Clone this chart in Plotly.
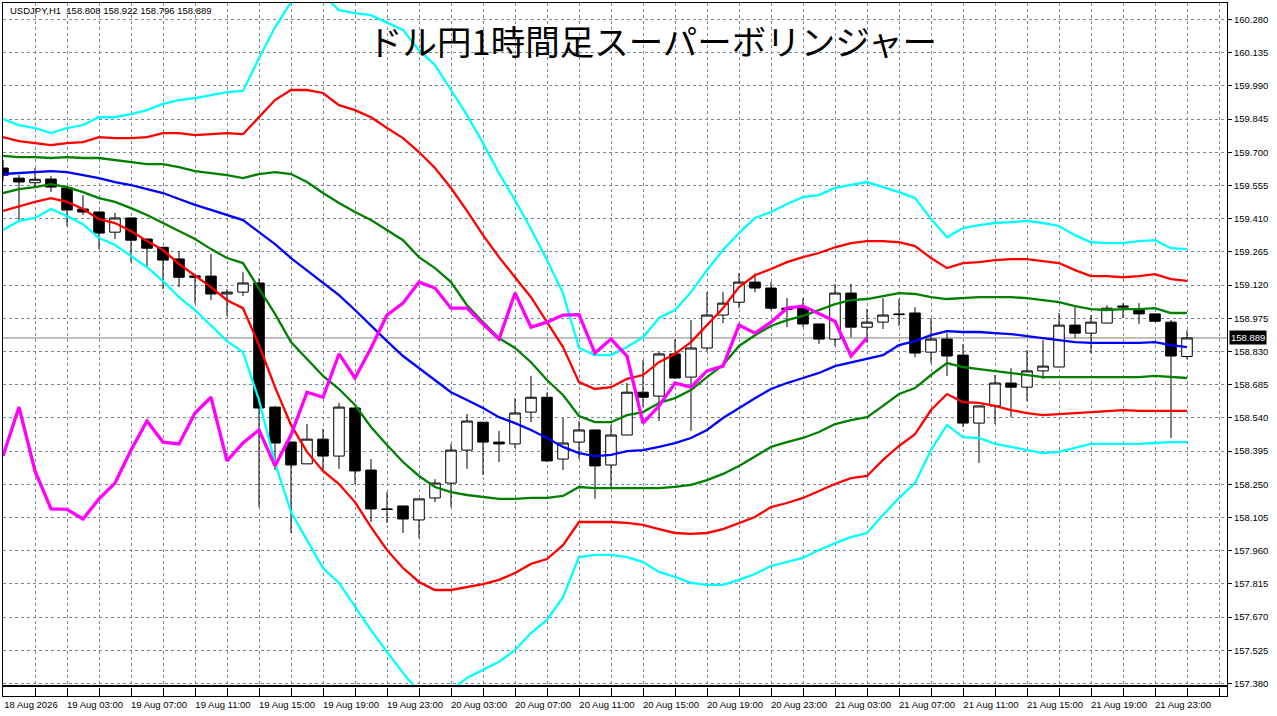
import pandas as pd
import plotly.graph_objects as go


####################################################
# DATA
####################################################

times = pd.date_range("2026-08-18 23:00", periods=75, freq="h")

opens = [159.631, 159.587, 159.567, 159.583, 159.544, 159.452, 159.439, 159.351, 159.413, 159.321,
         159.285, 159.234, 159.160, 159.159, 159.081, 159.089, 159.129, 158.587, 158.434, 158.339,
         158.447, 158.373, 158.583, 158.312, 158.142, 158.155, 158.094, 158.190, 158.255, 158.399,
         158.521, 158.434, 158.426, 158.565, 158.630, 158.360, 158.434, 158.487, 158.334, 158.465,
         158.652, 158.635, 158.819, 158.718, 158.845, 158.989, 159.045, 159.133, 159.107, 159.013,
         159.019, 158.950, 158.884, 159.085, 158.936, 158.958, 158.994, 158.998, 158.827, 158.884,
         158.814, 158.517, 158.592, 158.692, 158.674, 158.745, 158.762, 158.945, 158.910, 158.954,
         159.023, 159.011, 158.994, 158.958, 158.808]

highs = [159.666, 159.600, 159.631, 159.596, 159.553, 159.513, 159.444, 159.435, 159.415, 159.322,
         159.286, 159.269, 159.163, 159.256, 159.103, 159.176, 159.150, 158.592, 158.435, 158.513,
         158.491, 158.605, 158.584, 158.360, 158.216, 158.156, 158.186, 158.272, 158.426, 158.557,
         158.522, 158.483, 158.626, 158.723, 158.652, 158.539, 158.526, 158.488, 158.508, 158.692,
         158.792, 158.827, 158.884, 158.967, 159.089, 159.089, 159.172, 159.172, 159.133, 159.063,
         159.063, 158.951, 159.125, 159.125, 159.015, 159.063, 159.059, 159.023, 158.976, 158.910,
         158.863, 158.592, 158.727, 158.757, 158.836, 158.880, 158.998, 159.023, 158.989, 159.032,
         159.041, 159.041, 158.995, 158.967, 158.922]

lows = [159.575, 159.404, 159.548, 159.526, 159.378, 159.426, 159.277, 159.321, 159.220, 159.203,
        159.103, 159.111, 159.041, 159.054, 158.985, 159.072, 158.150, 158.312, 158.037, 158.338,
        158.303, 158.317, 158.251, 158.085, 158.081, 158.037, 158.015, 158.172, 158.150, 158.317,
        158.290, 158.347, 158.408, 158.521, 158.347, 158.312, 158.360, 158.186, 158.233, 158.464,
        158.587, 158.526, 158.710, 158.483, 158.832, 158.954, 159.019, 159.089, 159.011, 158.936,
        158.936, 158.863, 158.854, 158.892, 158.867, 158.928, 158.941, 158.805, 158.779, 158.723,
        158.499, 158.343, 158.513, 158.543, 158.614, 158.710, 158.761, 158.888, 158.823, 158.953,
        158.976, 158.950, 158.958, 158.452, 158.796]

closes = [159.600, 159.570, 159.582, 159.548, 159.448, 159.439, 159.347, 159.413, 159.316, 159.281,
          159.229, 159.154, 159.154, 159.081, 159.089, 159.129, 158.583, 158.430, 158.334, 158.447,
          158.373, 158.587, 158.308, 158.142, 158.140, 158.098, 158.186, 158.255, 158.399, 158.526,
          158.434, 158.426, 158.561, 158.630, 158.352, 158.430, 158.487, 158.330, 158.465, 158.652,
          158.630, 158.819, 158.714, 158.845, 158.989, 159.041, 159.133, 159.107, 159.019, 159.019,
          158.950, 158.884, 159.085, 158.936, 158.958, 158.989, 158.991, 158.823, 158.884, 158.810,
          158.517, 158.592, 158.692, 158.674, 158.745, 158.766, 158.945, 158.910, 158.958, 159.019,
          159.028, 158.994, 158.962, 158.810, 158.889]

# +3σ
upper3 = [159.845, 159.819, 159.806, 159.784, 159.806, 159.819, 159.853, 159.853, 159.867, 159.884,
          159.911, 159.928, 159.937, 159.950, 159.963, 159.968, 160.111, 160.246, 160.356, 160.387,
          160.387, 160.321, 160.308, 160.299, 160.268, 160.234, 160.146, 160.081, 159.972, 159.862,
          159.740, 159.609, 159.491, 159.365, 159.229, 159.085, 158.845, 158.814, 158.814, 158.849,
          158.892, 158.976, 159.011, 159.089, 159.185, 159.273, 159.347, 159.413, 159.439, 159.474,
          159.504, 159.513, 159.544, 159.557, 159.570, 159.548, 159.526, 159.500, 159.409, 159.329,
          159.369, 159.382, 159.391, 159.395, 159.400, 159.391, 159.378, 159.338, 159.307, 159.303,
          159.303, 159.312, 159.316, 159.281, 159.277]

# +2σ
upper2 = [159.766, 159.749, 159.740, 159.731, 159.740, 159.744, 159.766, 159.762, 159.762, 159.766,
          159.784, 159.784, 159.775, 159.779, 159.784, 159.779, 159.853, 159.928, 159.972, 159.972,
          159.959, 159.906, 159.884, 159.853, 159.806, 159.762, 159.701, 159.631, 159.544, 159.444,
          159.338, 159.242, 159.154, 159.067, 158.958, 158.849, 158.696, 158.666, 158.674, 158.710,
          158.727, 158.783, 158.819, 158.871, 158.945, 159.019, 159.111, 159.163, 159.190, 159.220,
          159.242, 159.260, 159.285, 159.303, 159.312, 159.312, 159.307, 159.290, 159.238, 159.194,
          159.216, 159.220, 159.229, 159.233, 159.233, 159.225, 159.216, 159.185, 159.159, 159.159,
          159.154, 159.159, 159.168, 159.146, 159.138]

# +1σ
upper1 = [159.684, 159.679, 159.679, 159.675, 159.679, 159.675, 159.675, 159.666, 159.657, 159.648,
          159.648, 159.635, 159.618, 159.609, 159.600, 159.587, 159.605, 159.613, 159.605, 159.570,
          159.522, 159.478, 159.439, 159.404, 159.360, 159.316, 159.242, 159.194, 159.133, 159.032,
          158.958, 158.888, 158.845, 158.783, 158.705, 158.640, 158.548, 158.521, 158.521, 158.552,
          158.565, 158.605, 158.626, 158.661, 158.718, 158.771, 158.854, 158.901, 158.941, 158.967,
          158.985, 159.011, 159.037, 159.054, 159.059, 159.072, 159.085, 159.081, 159.067, 159.059,
          159.063, 159.067, 159.067, 159.067, 159.063, 159.054, 159.045, 159.028, 159.015, 159.011,
          159.015, 159.015, 159.019, 158.998, 158.998]

# ミドルライン
middle = [159.605, 159.609, 159.613, 159.618, 159.613, 159.600, 159.587, 159.570, 159.557, 159.539,
          159.522, 159.496, 159.470, 159.448, 159.426, 159.404, 159.351, 159.299, 159.238, 159.185,
          159.129, 159.076, 159.011, 158.941, 158.875, 158.810, 158.758, 158.705, 158.652, 158.618,
          158.583, 158.543, 158.517, 158.487, 158.452, 158.413, 158.386, 158.373, 158.378, 158.395,
          158.399, 158.413, 158.430, 158.452, 158.487, 158.539, 158.583, 158.626, 158.666, 158.692,
          158.714, 158.736, 158.766, 158.783, 158.797, 158.814, 158.858, 158.875, 158.901, 158.919,
          158.915, 158.915, 158.910, 158.906, 158.897, 158.888, 158.880, 158.871, 158.867, 158.867,
          158.867, 158.867, 158.871, 158.858, 158.849]

# -1σ
lower1 = [159.522, 159.539, 159.548, 159.561, 159.548, 159.526, 159.500, 159.483, 159.456, 159.426,
          159.391, 159.356, 159.321, 159.277, 159.238, 159.216, 159.107, 158.994, 158.871, 158.797,
          158.723, 158.666, 158.596, 158.500, 158.421, 158.347, 158.286, 158.238, 158.216, 158.203,
          158.194, 158.186, 158.186, 158.190, 158.190, 158.199, 158.238, 158.233, 158.233, 158.233,
          158.233, 158.233, 158.238, 158.247, 158.268, 158.295, 158.330, 158.373, 158.413, 158.434,
          158.452, 158.478, 158.513, 158.530, 158.543, 158.592, 158.644, 158.670, 158.727, 158.779,
          158.762, 158.753, 158.745, 158.736, 158.727, 158.718, 158.718, 158.718, 158.718, 158.718,
          158.718, 158.718, 158.723, 158.718, 158.714]

# -2σ
lower2 = [159.444, 159.465, 159.483, 159.500, 159.483, 159.452, 159.408, 159.391, 159.356, 159.312,
          159.273, 159.212, 159.163, 159.111, 159.054, 159.019, 158.858, 158.674, 158.509, 158.391,
          158.308, 158.251, 158.172, 158.063, 157.963, 157.884, 157.823, 157.788, 157.788, 157.801,
          157.814, 157.832, 157.862, 157.902, 157.923, 157.984, 158.085, 158.085, 158.085, 158.081,
          158.072, 158.054, 158.037, 158.033, 158.037, 158.054, 158.081, 158.107, 158.150, 158.168,
          158.190, 158.221, 158.251, 158.277, 158.286, 158.356, 158.417, 158.469, 158.574, 158.644,
          158.609, 158.605, 158.592, 158.574, 158.561, 158.552, 158.557, 158.561, 158.565, 158.570,
          158.574, 158.570, 158.570, 158.570, 158.570]

# -3σ
lower3 = [159.360, 159.400, 159.413, 159.452, 159.421, 159.386, 159.325, 159.295, 159.247, 159.198,
          159.137, 159.067, 159.011, 158.945, 158.875, 158.827, 158.618, 158.343, 158.129, 158.006,
          157.884, 157.819, 157.714, 157.613, 157.517, 157.426, 157.343, 157.321, 157.351, 157.404,
          157.439, 157.474, 157.526, 157.600, 157.657, 157.757, 157.932, 157.941, 157.941, 157.932,
          157.910, 157.867, 157.845, 157.819, 157.810, 157.810, 157.832, 157.858, 157.893, 157.910,
          157.928, 157.963, 157.993, 158.019, 158.037, 158.116, 158.190, 158.255, 158.399, 158.509,
          158.456, 158.452, 158.426, 158.413, 158.399, 158.386, 158.391, 158.408, 158.426, 158.426,
          158.426, 158.426, 158.430, 158.434, 158.434]

# 遅行スパン (終値を20本前にずらす)
lag_shift = 20

price_ticks = ["160.280", "160.135", "159.990", "159.845", "159.700", "159.555", "159.410",
               "159.265", "159.120", "158.975", "158.830", "158.685", "158.540", "158.395",
               "158.250", "158.105", "157.960", "157.815", "157.670", "157.525", "157.380"]

date_labels = ["18 Aug 2026", "19 Aug 03:00", "19 Aug 07:00", "19 Aug 11:00", "19 Aug 15:00",
               "19 Aug 19:00", "19 Aug 23:00", "20 Aug 03:00", "20 Aug 07:00", "20 Aug 11:00",
               "20 Aug 15:00", "20 Aug 19:00", "20 Aug 23:00", "21 Aug 03:00", "21 Aug 07:00",
               "21 Aug 11:00", "21 Aug 15:00", "21 Aug 19:00", "21 Aug 23:00"]

last_price = 158.889


####################################################
# GRÁFICO
####################################################

GRID = "#778899"
FONT = "Liberation Sans"

fig = go.Figure()

fig.add_trace(go.Candlestick(
    x=times,
    open=opens,
    high=highs,
    low=lows,
    close=closes,
    increasing=dict(line=dict(color="black", width=1), fillcolor="white"),
    decreasing=dict(line=dict(color="black", width=1), fillcolor="black"),
    whiskerwidth=0,
    showlegend=False,
    hoverinfo="skip"
))

bandas = [
    (upper3, "#00FFFF"),
    (upper2, "#FF0000"),
    (upper1, "#008000"),
    (middle, "#0000FF"),
    (lower1, "#008000"),
    (lower2, "#FF0000"),
    (lower3, "#00FFFF")
]

for valores, cor in bandas:
    fig.add_trace(go.Scatter(
        x=times,
        y=valores,
        mode="lines",
        line=dict(color=cor, width=2.3),
        showlegend=False,
        hoverinfo="skip"
    ))

fig.add_trace(go.Scatter(
    x=times[:-lag_shift],
    y=closes[lag_shift:],
    mode="lines",
    line=dict(color="#FF00FF", width=3.3),
    showlegend=False,
    hoverinfo="skip"
))

# painel vazio inferior
fig.add_trace(go.Scatter(
    x=[times[0]],
    y=[0],
    mode="markers",
    marker=dict(opacity=0),
    xaxis="x2",
    yaxis="y2",
    showlegend=False,
    hoverinfo="skip"
))

t0 = times[0]
x_range = [t0, t0 + pd.Timedelta(hours=76.5)]

fig.update_layout(
    width=1277,
    height=716,
    paper_bgcolor="white",
    plot_bgcolor="white",
    margin=dict(l=3, r=50, t=3, b=20),
    font=dict(family=FONT, size=10, color="black"),
    boxgap=0.34,
    boxgroupgap=0,
    xaxis=dict(
        type="date",
        domain=[0, 1],
        anchor="y",
        range=x_range,
        rangeslider=dict(visible=False),
        showticklabels=False,
        ticks="",
        tick0=t0,
        dtick=2 * 3600 * 1000,
        showgrid=True,
        gridcolor=GRID,
        griddash="3px,3px",
        gridwidth=1,
        showline=True,
        mirror=True,
        linecolor="black",
        linewidth=1,
        zeroline=False
    ),
    yaxis=dict(
        domain=[0.0152, 1],
        anchor="x",
        side="right",
        range=[157.371, 160.352],
        tickvals=[float(v) for v in price_ticks],
        ticktext=price_ticks,
        ticks="outside",
        ticklen=4,
        tickcolor="black",
        tickfont=dict(family=FONT, size=9.5, color="black"),
        showgrid=True,
        gridcolor=GRID,
        griddash="3px,3px",
        gridwidth=1,
        showline=True,
        mirror=True,
        linecolor="black",
        linewidth=1,
        zeroline=False
    ),
    xaxis2=dict(
        type="date",
        domain=[0, 1],
        anchor="y2",
        matches="x",
        range=x_range,
        tickvals=list(times[::4]),
        ticktext=date_labels,
        ticks="inside",
        ticklen=8,
        tickcolor="black",
        ticklabelshift=28,
        tickfont=dict(family=FONT, size=9.5, color="black"),
        minor=dict(ticks="inside", ticklen=8, tickcolor="black",
                   tick0=t0, dtick=2 * 3600 * 1000),
        showgrid=False,
        showline=True,
        mirror=True,
        linecolor="black",
        linewidth=1,
        zeroline=False
    ),
    yaxis2=dict(
        domain=[0, 0.0123],
        anchor="x2",
        range=[-1, 1],
        showticklabels=False,
        ticks="",
        showgrid=False,
        showline=True,
        mirror=True,
        linecolor="black",
        linewidth=1,
        zeroline=False
    ),
    shapes=[
        dict(
            type="line",
            xref="x domain",
            yref="y",
            x0=0,
            x1=1,
            y0=last_price,
            y1=last_price,
            line=dict(color="#808080", width=1),
            layer="below"
        )
    ],
    annotations=[
        dict(
            text="ドル円1時間足スーパーボリンジャー",
            xref="paper",
            yref="paper",
            x=0.5310,
            y=0.9466,
            xanchor="center",
            yanchor="middle",
            showarrow=False,
            font=dict(family="Noto Sans CJK JP", size=34.5, color="black")
        ),
        dict(
            text="USDJPY,H1  158.808 158.922 158.796 158.889",
            xref="paper",
            yref="paper",
            x=0.0041,
            y=0.9885,
            xanchor="left",
            yanchor="middle",
            showarrow=False,
            font=dict(family=FONT, size=9.5, color="black")
        ),
        dict(
            text=f"{last_price:.3f}",
            xref="paper",
            yref="y",
            x=1,
            y=last_price,
            xanchor="left",
            yanchor="middle",
            xshift=2,
            showarrow=False,
            bgcolor="black",
            borderpad=1,
            font=dict(family=FONT, size=9.5, color="white")
        )
    ]
)

# sem margem da página e sem barra de ferramentas
fig.write_html(
    "out.html",
    config={"displayModeBar": False},
    post_script="document.body.style.margin='0';"
)
